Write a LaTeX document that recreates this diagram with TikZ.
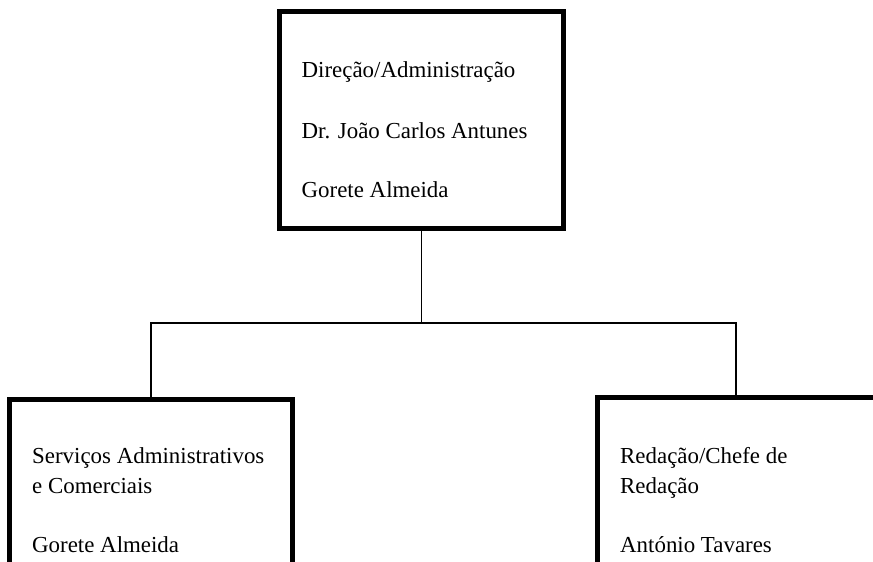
\documentclass[tikz,border=0pt]{standalone}
\usepackage{fontspec}
\setmainfont{Liberation Serif}
\begin{document}
\begin{tikzpicture}[x=1pt,y=-1pt,
  unitbox/.style={draw=black,line width=5pt,rectangle,inner sep=0pt,outer sep=0pt,fill=none},
  lbl/.style={anchor=base west,inner sep=0pt,font=\fontsize{22.9}{30}\selectfont},
  conn/.style={draw=black,line width=1.3pt}]
\useasboundingbox (0,0) rectangle (873,562);
\clip (0,0) rectangle (873,562);
% boxes
\node[unitbox,minimum width=284pt,minimum height=217pt] (top) at (421.5,120) {};
\node[unitbox,minimum width=283pt,minimum height=217pt] (left) at (151,508) {};
\node[unitbox,minimum width=300pt,minimum height=217pt] (right) at (747.5,506) {};
% texts
\node[lbl] (t1) at (301.5,77) {Direção/Administração};
\node[lbl] (t2) at (301.5,138) {Dr. João Carlos Antunes};
\node[lbl] (t3) at (301.5,197) {Gorete Almeida};
\node[lbl] (l1) at (32,463) {Serviços Administrativos};
\node[lbl] (l2) at (32,493) {e Comerciais};
\node[lbl] (l3) at (32,552) {Gorete Almeida};
\node[lbl] (r1) at (620,463) {Redação/Chefe de};
\node[lbl] (r2) at (620,493) {Redação};
\node[lbl] (r3) at (620,552) {António Tavares};
% connectors
\coordinate (bar) at (421.5,323);
\coordinate (rtop) at (736,395);
\draw[conn] (top.south) -- (bar);
\draw[conn] (left.north) |- (bar) -| (rtop);
\end{tikzpicture}
\end{document}
